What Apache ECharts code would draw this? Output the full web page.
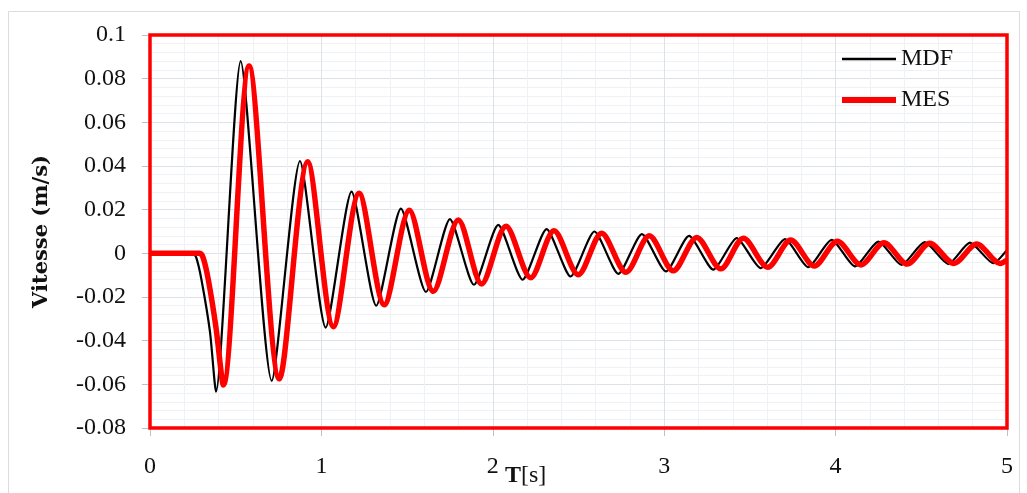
<!DOCTYPE html>
<html>
<head>
<meta charset="utf-8">
<script src="https://cdn.jsdelivr.net/npm/echarts@6/dist/echarts.min.js"></script>
<style>
html,body{margin:0;padding:0;background:#fff;}
#chart{width:1027px;height:493px;}
</style>
</head>
<body>
<div id="chart"></div>
<script>
// Time samples (s) and velocities (m/s)
var mdfT = [0, 0.25, 0.27, 0.30, 0.35, 0.385, 0.529, 0.71, 0.875, 1.025, 1.176, 1.32, 1.464, 1.61, 1.75, 1.89, 2.032, 2.174, 2.314, 2.454, 2.593, 2.733, 2.87, 3.01, 3.145, 3.287, 3.423, 3.563, 3.705, 3.84, 3.977, 4.113, 4.25, 4.385, 4.52, 4.658, 4.784, 4.92, 5.0];
var mdfV = [0, 0, -0.002, -0.012, -0.036, -0.0634, 0.088, -0.0584, 0.0423, -0.034, 0.0283, -0.024, 0.0205, -0.0177, 0.0157, -0.0144, 0.013, -0.0121, 0.0111, -0.0106, 0.0100, -0.0094, 0.0088, -0.0083, 0.008, -0.0075, 0.0070, -0.0068, 0.0065, -0.0063, 0.0062, -0.006, 0.0054, -0.0053, 0.0051, -0.0049, 0.0049, -0.0045, 0.0016];

var mesT = [0, 0.29, 0.31, 0.34, 0.385, 0.428, 0.578, 0.755, 0.92, 1.07, 1.22, 1.367, 1.513, 1.653, 1.799, 1.935, 2.077, 2.221, 2.357, 2.499, 2.635, 2.777, 2.913, 3.053, 3.19, 3.33, 3.462, 3.604, 3.738, 3.876, 4.01, 4.148, 4.282, 4.418, 4.55, 4.69, 4.823, 4.96, 5.0];
var mesV = [0, 0, -0.002, -0.012, -0.034, -0.0603, 0.0858, -0.0575, 0.0419, -0.0336, 0.0275, -0.0236, 0.0197, -0.0174, 0.0153, -0.014, 0.0124, -0.0112, 0.0103, -0.0098, 0.0092, -0.0087, 0.008, -0.008, 0.0073, -0.0071, 0.0069, -0.0064, 0.0061, -0.0058, 0.0055, -0.0053, 0.0048, -0.0049, 0.0046, -0.0046, 0.0043, -0.0046, -0.003];

var seriesNames = ['MDF', 'MES'];
var xTickLabels = ['0', '1', '2', '3', '4', '5'];
var yTickLabels = ['-0.08', '-0.06', '-0.04', '-0.02', '0', '0.02', '0.04', '0.06', '0.08', '0.1'];

function pairs(t, v) { return t.map(function (x, i) { return [x, v[i]]; }); }

var serif = '"Liberation Serif", "DejaVu Serif", serif';
var chart = echarts.init(document.getElementById('chart'), null, {renderer: 'canvas'});
chart.setOption({
  backgroundColor: '#ffffff',
  animation: false,
  grid: {left: 150, right: 20, top: 35, bottom: 65, show: true, borderColor: '#ff0000', borderWidth: 3.5, backgroundColor: 'transparent', z: 5},
  legend: {
    orient: 'vertical', left: 834, top: 42, itemWidth: 54, itemHeight: 24, itemGap: 17,
    textStyle: {fontFamily: serif, fontSize: 24, color: '#111'},
    itemStyle: {opacity: 0},
    data: [
      {name: 'MDF', lineStyle: {width: 2.5, color: '#000'}, itemStyle: {opacity: 0}},
      {name: 'MES', lineStyle: {width: 6, color: '#ff0000'}, itemStyle: {opacity: 0}}
    ]
  },
  xAxis: {
    type: 'value', min: 0, max: 5, interval: 1,
    axisLine: {show: true, onZero: false, lineStyle: {color: '#b9c2cf', width: 1}},
    axisTick: {show: true, length: 8, inside: false, lineStyle: {color: '#b9c2cf'}},
    axisLabel: {margin: 27, fontFamily: serif, fontSize: 24, color: '#111', formatter: function (v) { return xTickLabels[Math.round(v)]; }},
    splitLine: {show: true, lineStyle: {color: '#dde1e8', width: 1}},
    minorTick: {show: false, splitNumber: 5},
    minorSplitLine: {show: true, lineStyle: {color: '#eff1f4', width: 1}}
  },
  yAxis: {
    type: 'value', min: -0.08, max: 0.1, interval: 0.02,
    name: 'Vitesse (m/s)', nameLocation: 'middle', nameGap: 98, nameRotate: 90,
    nameTextStyle: {fontFamily: '"DejaVu Serif", serif', fontWeight: 'bold', fontSize: 21, color: '#111'},
    axisLine: {show: true, onZero: false, lineStyle: {color: '#b9c2cf', width: 1}},
    axisTick: {show: true, length: 8, lineStyle: {color: '#b9c2cf'}},
    axisLabel: {margin: 24, fontFamily: serif, fontSize: 24, color: '#111', formatter: function (v) { return yTickLabels[Math.round((v + 0.08) / 0.02)]; }},
    splitLine: {show: true, lineStyle: {color: '#dde1e8', width: 1}},
    minorTick: {show: false, splitNumber: 5},
    minorSplitLine: {show: true, lineStyle: {color: '#eff1f4', width: 1}}
  },
  graphic: [
    {type: 'rect', silent: true, z: -10, shape: {x: 8.5, y: 11.5, width: 1011, height: 500}, style: {fill: 'none', stroke: '#d9dce2', lineWidth: 1}},
    {type: 'text', left: 505, top: 464, style: {
      rich: {b: {fontFamily: serif, fontWeight: 'bold', fontSize: 24, fill: '#111'}, r: {fontFamily: serif, fontSize: 24, fill: '#111'}},
      text: '{b|T}{r|[s]}'
    }}
  ],
  series: [
    {name: seriesNames[0], type: 'line', data: pairs(mdfT, mdfV), showSymbol: false, symbol: 'none', smooth: 0.22,
      lineStyle: {color: '#000000', width: 2.2}, itemStyle: {color: '#000000'}, z: 2},
    {name: seriesNames[1], type: 'line', data: pairs(mesT, mesV), showSymbol: false, symbol: 'none', smooth: 0.3,
      lineStyle: {color: '#ff0000', width: 5.5}, itemStyle: {color: '#ff0000'}, z: 3}
  ]
});
</script>
</body>
</html>
